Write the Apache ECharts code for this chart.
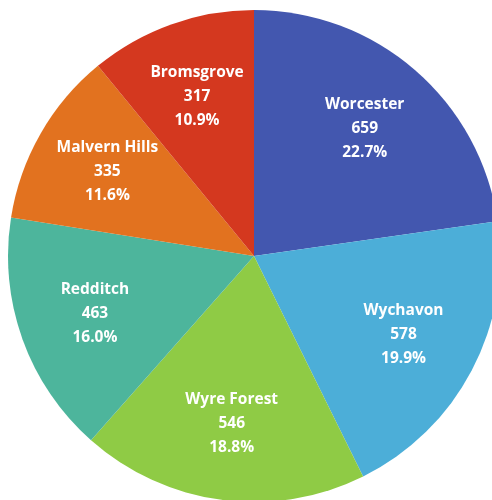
<!DOCTYPE html>
<html>
<head>
<meta charset="utf-8">
<script src="https://cdn.jsdelivr.net/npm/echarts@6/dist/echarts.min.js"></script>
<style>html,body{margin:0;padding:0;background:#fff;}#c{width:492px;height:500px;}</style>
</head>
<body>
<div id="c"></div>
<script>
const districts = ['Worcester', 'Wychavon', 'Wyre Forest', 'Redditch', 'Malvern Hills', 'Bromsgrove'];
const counts = [659, 578, 546, 463, 335, 317];
const colors = ['#4357AF', '#4CAED8', '#8FCB45', '#4DB59C', '#E2721F', '#D4381F'];

const total = counts.reduce((a, b) => a + b, 0);
const data = districts.map((n, i) => ({ name: n, value: counts[i] }));
const chart = echarts.init(document.getElementById('c'));
const center = [254, 256];
const R = 246;
chart.setOption({
  backgroundColor: '#fff',
  animation: false,
  series: [
    {
      type: 'pie',
      center: center,
      radius: [0, R],
      startAngle: 90,
      clockwise: true,
      color: colors,
      label: { show: false },
      labelLine: { show: false },
      itemStyle: { borderWidth: 0 },
      emphasis: { disabled: true },
      data: data
    },
    {
      type: 'pie',
      center: center,
      radius: [86, R],
      startAngle: 90,
      clockwise: true,
      silent: true,
      itemStyle: { color: 'transparent', borderWidth: 0 },
      labelLine: { show: false },
      label: {
        show: true,
        position: 'inside',
        color: '#fff',
        fontFamily: 'Open Sans',
        fontWeight: 'bold',
        fontSize: 15.5,
        lineHeight: 24,
        formatter: p => p.name + '\n' + p.value + '\n' + (p.value / total * 100).toFixed(1) + '%'
      },
      data: data
    }
  ]
});
</script>
</body>
</html>
